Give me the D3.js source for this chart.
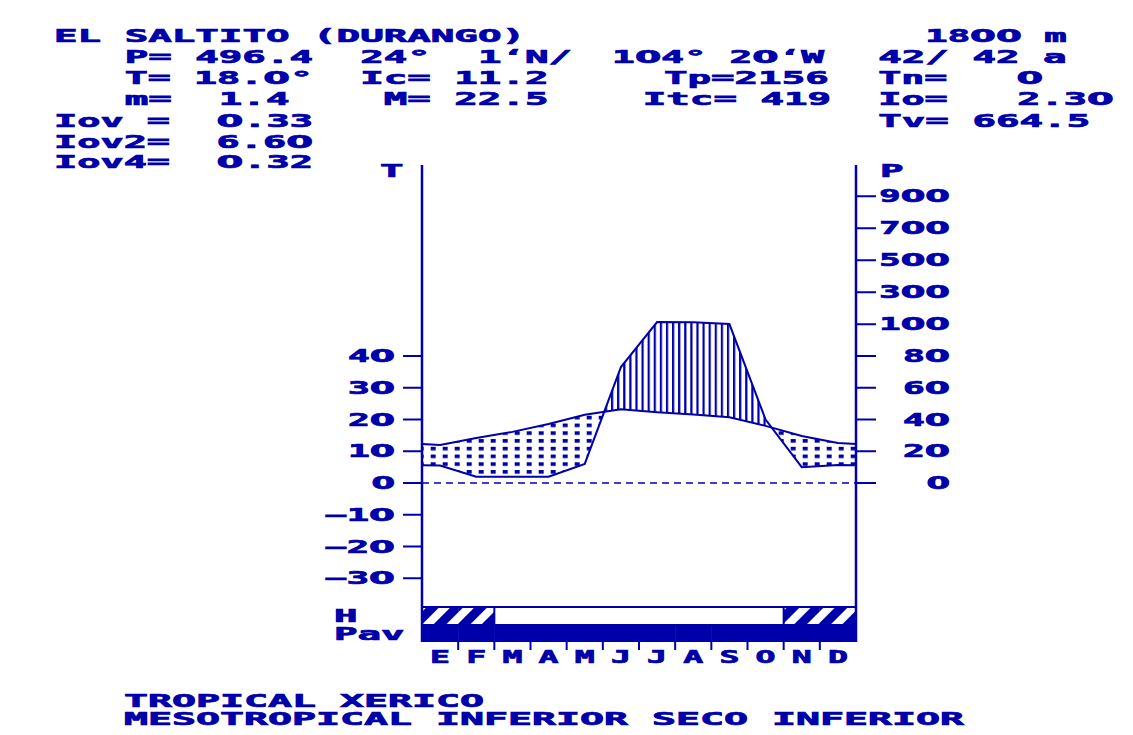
<!DOCTYPE html>
<html><head><meta charset="utf-8">
<script src="https://cdn.jsdelivr.net/npm/d3@7"></script>
<style>
html,body{margin:0;padding:0;background:#fff;}
text{font-family:"DejaVu Sans Mono","Liberation Mono",monospace;font-weight:bold;white-space:pre;}
tspan.z{font-family:"DejaVu Sans","Liberation Sans",sans-serif;}
</style></head>
<body>
<svg id="c" width="1133" height="735"></svg>
<script>
// ---- data ----
const months = ["E","F","M","A","M","J","J","A","S","O","N","D"];
const temp   = [12.0,14.2,16.1,18.6,21.5,23.2,22.3,21.6,20.7,18.0,14.8,12.6];
const precip = [11,4,4,4,12,73,114,112,101,40,10,11.4];
const humid  = [1,1,0,0,0,0,0,0,0,0,1,1];   // 1 = hatched H month
const pav    = [1,1,1,1,1,1,1,1,1,1,1,1];
const tTicks = [40,30,20,10,0,-10,-20,-30];
const pTicks = [0,20,40,60,80,100,300,500,700,900];
const header = [
  ["EL SALTITO (DURANGO)",0,0],["1800 m",37,0],
  ["P= 496.4",3,1],["24°",13,1],["1‘N/",18,1],["104° 20‘W",23.7,1],["42/ 42 a",35,1],
  ["T= 18.0°",3,2],["Ic= 11.2",13,2],["Tp=2156",25.9,2],["Tn=   0",35,2],
  ["m=  1.4",3,3],["M= 22.5",14,3],["Itc= 419",25,3],["Io=   2.30",35,3],
  ["Iov =  0.33",0,4],["Tv= 664.5",35,4],
  ["Iov2=  6.60",0,5],
  ["Iov4=  0.32",0,6]
];
const footer = ["TROPICAL XERICO","MESOTROPICAL INFERIOR SECO INFERIOR"];

// ---- layout ----
const BLUE = "#0000AA";
const PITCH = 23.55, X0 = 54, FS = 17;
const svg = d3.select("#c");
const x = d3.scaleLinear().domain([0,12]).range([422,856]);
const yT = d3.scaleLinear().domain([0,40]).range([483,356]);
const yP = d3.scaleLinear().domain([0,100,900]).range([483,yT(50),yT(50)-128]);

function txt(s, px, py, anchor, pitch){
  const t = svg.append("text").attr("x",px).attr("y",py)
    .attr("fill",BLUE).attr("stroke",BLUE).attr("stroke-width",0.7).attr("font-size",FS)
    .attr("textLength", s.length*(pitch||PITCH)).attr("lengthAdjust","spacingAndGlyphs")
    .attr("xml:space","preserve");
  const runs = s.match(/0+|[^0]+/g) || [];
  runs.forEach(r=>{
    const ts = t.append("tspan").text(r);
    if(r[0]==="0") ts.attr("class","z");
  });
  if(anchor) t.attr("text-anchor",anchor);
  return t;
}

// header
const rowBase = [42,63,84,105,127,148,168];
header.forEach(([s,col,row])=> txt(s, X0+col*PITCH, rowBase[row]));
// footer
txt(footer[0], 124, 707, null, 24.0);
txt(footer[1], 124, 725, null, 24.0);

// defs
const defs = svg.append("defs");
const dots = defs.append("pattern").attr("id","dots").attr("patternUnits","userSpaceOnUse")
  .attr("x",10.7).attr("y",5.05).attr("width",12).attr("height",7.75);
dots.append("rect").attr("x",0).attr("y",0).attr("width",5).attr("height",3.6).attr("fill",BLUE);
const vh = defs.append("pattern").attr("id","vhatch").attr("patternUnits","userSpaceOnUse")
  .attr("x",1).attr("y",0).attr("width",6.1).attr("height",10);
vh.append("rect").attr("x",0).attr("y",0).attr("width",2.2).attr("height",10).attr("fill",BLUE);
const dh = defs.append("pattern").attr("id","dhatch").attr("patternUnits","userSpaceOnUse")
  .attr("width",17).attr("height",17).attr("patternTransform","rotate(45)");
dh.append("rect").attr("x",0).attr("y",0).attr("width",9).attr("height",17).attr("fill",BLUE);

// points with edge extension
const edgeT = (temp[0]+temp[11])/2, edgeP = (precip[0]+precip[11])/2;
const pts = [{m:0,t:edgeT,p:edgeP}]
  .concat(months.map((mm,i)=>({m:i+0.5,t:temp[i],p:precip[i]})))
  .concat([{m:12,t:edgeT,p:edgeP}]);

// clip paths relative to T line
const tLinePts = pts.map(d=>[x(d.m),yT(d.t)]);
defs.append("clipPath").attr("id","aboveT").append("path")
  .attr("d","M"+tLinePts.map(p=>p.join(",")).join("L")+"L856,0L422,0Z");
defs.append("clipPath").attr("id","belowT").append("path")
  .attr("d","M"+tLinePts.map(p=>p.join(",")).join("L")+"L856,735L422,735Z");

const between = d3.area().x(d=>x(d.m)).y0(d=>yT(d.t)).y1(d=>yP(d.p));
svg.append("path").datum(pts).attr("d",between).attr("fill","url(#vhatch)").attr("clip-path","url(#aboveT)");
svg.append("path").datum(pts).attr("d",between).attr("fill","url(#dots)").attr("clip-path","url(#belowT)");

// zero dashed line
svg.append("line").attr("x1",x(0)).attr("x2",x(12)).attr("y1",yT(0)).attr("y2",yT(0))
  .attr("stroke",BLUE).attr("stroke-width",1.6).attr("stroke-dasharray","7,5");

// curves
svg.append("path").datum(pts).attr("d",d3.line().x(d=>x(d.m)).y(d=>yT(d.t)))
  .attr("fill","none").attr("stroke",BLUE).attr("stroke-width",2);
svg.append("path").datum(pts).attr("d",d3.line().x(d=>x(d.m)).y(d=>yP(d.p)))
  .attr("fill","none").attr("stroke",BLUE).attr("stroke-width",2);

// H band & Pav
const bw = x(1)-x(0);
svg.append("rect").attr("x",x(0)).attr("y",607).attr("width",x(12)-x(0)).attr("height",18)
  .attr("fill","#fff");
humid.forEach((h,i)=>{ if(h) svg.append("rect").attr("x",x(i)).attr("y",608).attr("width",bw).attr("height",17).attr("fill","url(#dhatch)"); });
svg.append("rect").attr("x",x(0)).attr("y",607).attr("width",x(12)-x(0)).attr("height",18)
  .attr("fill","none").attr("stroke",BLUE).attr("stroke-width",2);
[2,10].forEach(k=>svg.append("line").attr("x1",x(k)).attr("x2",x(k)).attr("y1",607).attr("y2",625).attr("stroke",BLUE).attr("stroke-width",2));
pav.forEach((p,i)=>{ if(p) svg.append("rect").attr("x",x(i)).attr("y",625).attr("width",bw+0.5).attr("height",17).attr("fill",BLUE); });

// month ticks and labels
d3.range(1,12).forEach(k=>svg.append("line").attr("x1",x(k)).attr("x2",x(k)).attr("y1",641).attr("y2",650).attr("stroke",BLUE).attr("stroke-width",2));
months.forEach((mm,i)=>txt(mm, x(i+0.5), 663, "middle", 20));

// axes
svg.append("line").attr("x1",x(0)).attr("x2",x(0)).attr("y1",165).attr("y2",642).attr("stroke",BLUE).attr("stroke-width",2.5);
svg.append("line").attr("x1",x(12)).attr("x2",x(12)).attr("y1",165).attr("y2",642).attr("stroke",BLUE).attr("stroke-width",2.5);
tTicks.forEach(v=>{
  svg.append("line").attr("x1",403).attr("x2",x(0)).attr("y1",yT(v)).attr("y2",yT(v)).attr("stroke",BLUE).attr("stroke-width",2);
  txt(v<0?"−"+Math.abs(v):String(v), 395, yT(v)+6, "end");
});
pTicks.forEach(v=>{
  svg.append("line").attr("x1",x(12)).attr("x2",876).attr("y1",yP(v)).attr("y2",yP(v)).attr("stroke",BLUE).attr("stroke-width",2);
  txt(String(v), 950, yP(v)+6, "end");
});
txt("T", 380, 177);
txt("P", 880, 177);
txt("H", 334, 622);
txt("Pav", 334, 640);
</script>
</body></html>
